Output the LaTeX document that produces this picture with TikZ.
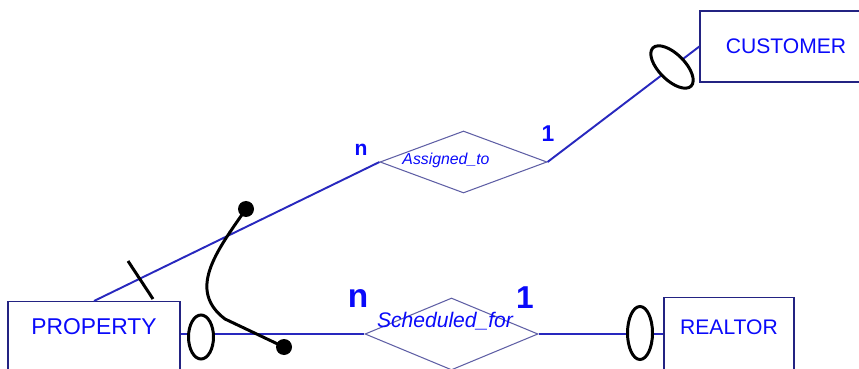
\documentclass[tikz,border=0pt]{standalone}
\usepackage{fontspec}
\setmainfont{Liberation Sans}
\usepackage{tikz}
\usetikzlibrary{shapes}
\definecolor{er_text}{RGB}{10, 10, 250}
\definecolor{er_line}{RGB}{40, 40, 190}
\definecolor{er_box}{RGB}{35, 35, 130}
\definecolor{er_rel}{RGB}{95, 95, 165}
\tikzstyle{ent}=[rectangle,draw=er_box,line width=0.7pt,text=er_text,
  inner sep=0pt,minimum width=3.44cm,font=\fontsize{12}{14}\selectfont]
\tikzstyle{rel}=[diamond,draw=er_rel,line width=0.6pt,inner sep=0pt]
\tikzstyle{rlbl}=[text=er_text,inner sep=0pt,font=\itshape]
\tikzstyle{card}=[text=er_text,inner sep=0pt,font=\bfseries]
\tikzstyle{link}=[draw=er_line,line width=1.1pt]
\tikzstyle{sym}=[draw=black,line width=1.7pt]
\tikzstyle{opt}=[ellipse,draw=black,fill=white,line width=1.7pt,inner sep=0pt]
\begin{document}
\begin{tikzpicture}
    \useasboundingbox (0,0) rectangle (17.18,7.36);
    \clip (0,0) rectangle (17.18,7.36);
    \node [style=ent,anchor=north,text height=0.66cm,text depth=0.94cm,
      font=\fontsize{13}{15}\selectfont] (property) at (1.88,1.34) {PROPERTY};
    \node [style=ent,anchor=north,minimum width=2.6cm,text height=0.74cm,
      text depth=0.88cm] (realtor) at (14.58,1.42) {REALTOR};
    \node [style=ent,minimum height=1.42cm] (customer) at (15.72,6.43) {CUSTOMER};
    \node [style=rel,minimum width=3.34cm,minimum height=1.24cm,aspect=2.7] (assigned) at (9.27,4.12) {};
    \node [style=rlbl,font=\itshape\fontsize{9}{11}\selectfont] (assignedlbl) at (8.92,4.16) {Assigned\_to};
    \node [style=rel,minimum width=3.46cm,minimum height=1.44cm,aspect=2.4] (scheduled) at (9.03,0.68) {};
    \node [style=rlbl,font=\itshape\fontsize{12}{14}\selectfont] (scheduledlbl) at (8.90,0.94) {Scheduled\_for};
    \node [style=card,font=\bfseries\fontsize{12}{14}\selectfont] (n1) at (7.22,4.36) {n};
    \node [style=card,font=\bfseries\fontsize{13}{15}\selectfont] (one1) at (10.96,4.68) {1};
    \node [style=card,font=\bfseries\fontsize{19}{21}\selectfont] (n2) at (7.16,1.38) {n};
    \node [style=card,font=\bfseries\fontsize{18}{20}\selectfont] (one2) at (10.50,1.40) {1};
    \draw [style=link] (property.north) to (assigned.west);
    \draw [style=link] (assigned.east) to (customer.west);
    \draw [style=link] (property.east |- scheduled.west) to (scheduled.west);
    \draw [style=link] (scheduled.east) to (realtor.west |- scheduled.east);
    % cardinality marks
    \draw [style=sym] (2.56,2.14) to (3.06,1.38);
    \node [style=opt,minimum width=0.5cm,minimum height=0.88cm] (propopt) at (4.02,0.62) {};
    \node [style=opt,minimum width=0.5cm,minimum height=1.06cm] (realopt) at (12.80,0.70) {};
    \node [style=opt,minimum width=0.52cm,minimum height=1.08cm,rotate=45] (custopt) at (13.44,6.02) {};
    % constraint between the two links
    \node [circle,fill=black,inner sep=0pt,minimum size=0.32cm] (dota) at (4.92,3.18) {};
    \node [circle,fill=black,inner sep=0pt,minimum size=0.32cm] (dotb) at (5.68,0.42) {};
    \draw [style=sym] (dota.center) .. controls (4.3,2.3) and (3.75,1.55) .. (4.5,0.98) -- (dotb.center);
  \end{tikzpicture}
\end{document}
